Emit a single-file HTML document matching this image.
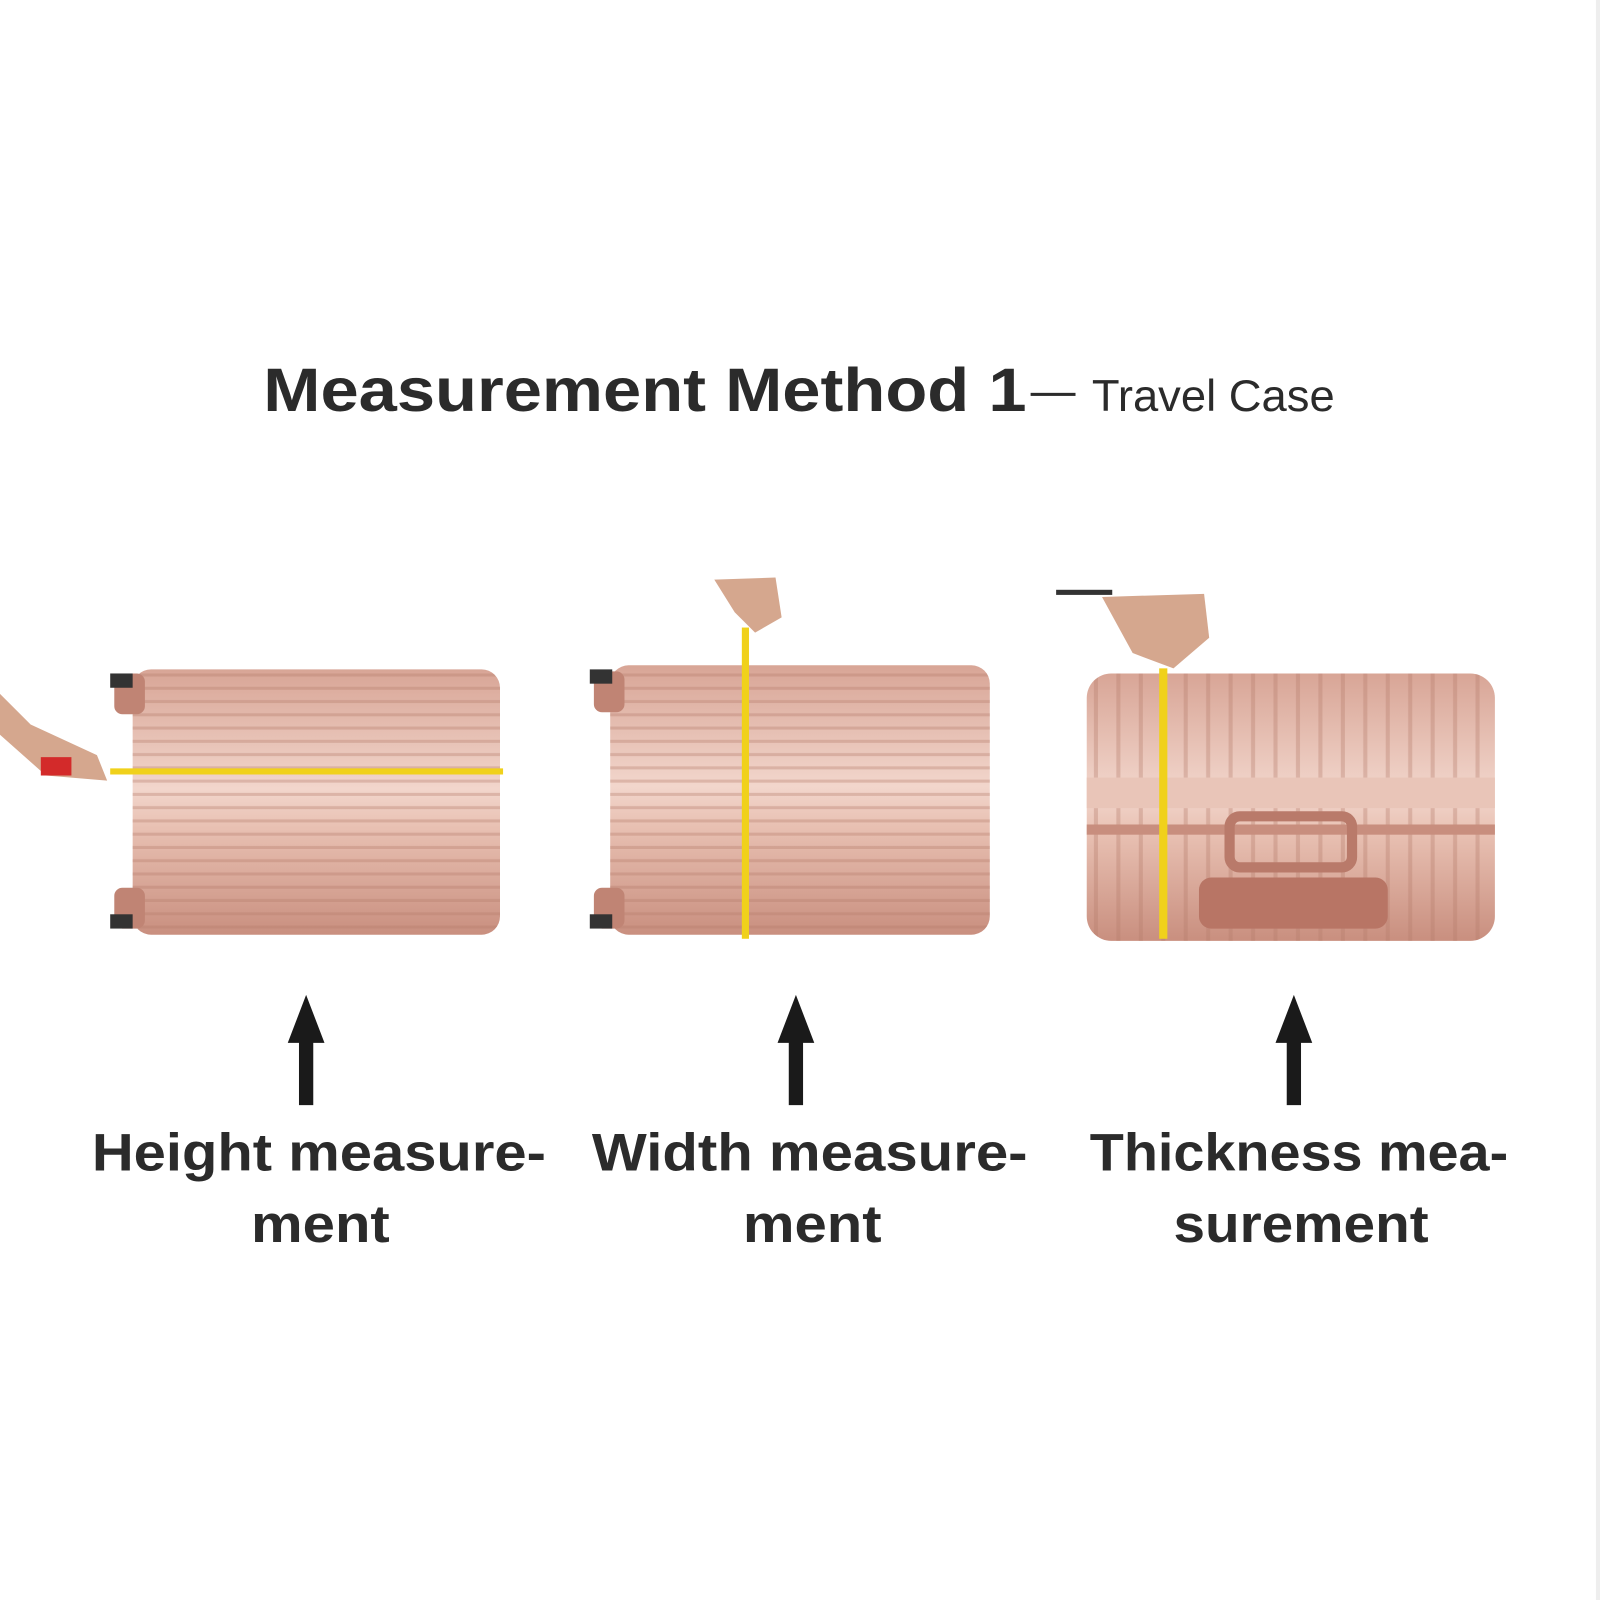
<!DOCTYPE html>
<html><head><meta charset="utf-8"><style>
html,body{margin:0;padding:0;background:#fff;}
svg{display:block}
</style></head><body>
<svg width="1600" height="1600" viewBox="0 0 1568 1568" xmlns="http://www.w3.org/2000/svg">
<defs>
<linearGradient id="g1" x1="0" y1="0" x2="0" y2="1">
<stop offset="0" stop-color="#d8a596"/><stop offset="0.45" stop-color="#f2d6cc"/><stop offset="0.6" stop-color="#e8c0b2"/><stop offset="1" stop-color="#c98f7f"/>
</linearGradient>
<pattern id="ribs" width="10" height="13" patternUnits="userSpaceOnUse">
<rect y="10" width="10" height="3" fill="#b57a6a" opacity="0.35"/>
</pattern>
<pattern id="vrib" width="22" height="10" patternUnits="userSpaceOnUse">
<rect x="16" width="4" height="10" fill="#b57a6a" opacity="0.35"/>
</pattern>
</defs>
<rect width="1568" height="1568" fill="#fff"/>
<rect x="1564" y="0" width="4" height="1568" fill="#eee"/>
<text x="258" y="403" textLength="748" lengthAdjust="spacingAndGlyphs" font-family="Liberation Sans, sans-serif" font-weight="bold" font-size="60" fill="#2b2b2b">Measurement Method 1</text>
<rect x="1010" y="385" width="44" height="3" fill="#2b2b2b"/>
<text x="1070" y="403" textLength="238" lengthAdjust="spacingAndGlyphs" font-family="Liberation Sans, sans-serif" font-size="44" fill="#2b2b2b">Travel Case</text>

<rect x="130" y="656" width="360" height="260" rx="18" fill="url(#g1)"/>
<rect x="130" y="656" width="360" height="260" rx="18" fill="url(#ribs)"/>
<rect x="112" y="660" width="30" height="40" rx="8" fill="#c08474"/>
<rect x="112" y="870" width="30" height="40" rx="8" fill="#c08474"/>
<rect x="108" y="896" width="22" height="14" fill="#333"/><rect x="108" y="660" width="22" height="14" fill="#333"/>
<rect x="108" y="753" width="385" height="6" fill="#f0d11b"/>
<path d="M0 680 L30 710 L95 740 L105 765 L45 760 L0 720Z" fill="#d5a78e"/>
<rect x="40" y="742" width="30" height="18" fill="#d32a2a"/>

<rect x="598" y="652" width="372" height="264" rx="18" fill="url(#g1)"/>
<rect x="598" y="652" width="372" height="264" rx="18" fill="url(#ribs)"/>
<rect x="582" y="658" width="30" height="40" rx="8" fill="#c08474"/>
<rect x="582" y="870" width="30" height="40" rx="8" fill="#c08474"/>
<rect x="578" y="896" width="22" height="14" fill="#333"/><rect x="578" y="656" width="22" height="14" fill="#333"/>
<rect x="727" y="615" width="7" height="305" fill="#f0d11b"/>
<path d="M700 568 L760 566 L766 605 L740 620 L720 600Z" fill="#d5a78e"/>

<rect x="1065" y="660" width="400" height="262" rx="24" fill="url(#g1)"/>
<rect x="1065" y="660" width="400" height="262" rx="24" fill="url(#vrib)"/>
<rect x="1065" y="762" width="400" height="30" fill="#e9c5b8"/>
<rect x="1065" y="808" width="400" height="10" fill="#c88e7e"/>
<rect x="1175" y="860" width="185" height="50" rx="12" fill="#b87565"/>
<rect x="1205" y="800" width="120" height="50" rx="10" fill="none" stroke="#b97a6a" stroke-width="10"/>
<rect x="1136" y="655" width="8" height="265" fill="#f0d11b"/>
<path d="M1080 585 L1180 582 L1185 625 L1150 655 L1110 640Z" fill="#d5a78e"/>
<rect x="1035" y="578" width="55" height="5" fill="#333"/>

<g fill="#1a1a1a">
<path d="M300 975 L318 1022 L307 1022 L307 1083 L293 1083 L293 1022 L282 1022Z"/>
<path d="M780 975 L798 1022 L787 1022 L787 1083 L773 1083 L773 1022 L762 1022Z"/>
<path d="M1268 975 L1286 1022 L1275 1022 L1275 1083 L1261 1083 L1261 1022 L1250 1022Z"/>
</g>
<g font-family="Liberation Sans, sans-serif" font-weight="bold" font-size="52" fill="#2b2b2b" lengthAdjust="spacingAndGlyphs">
<text x="90" y="1147" textLength="445" lengthAdjust="spacingAndGlyphs">Height measure-</text>
<text x="246" y="1217" textLength="136" lengthAdjust="spacingAndGlyphs">ment</text>
<text x="580" y="1147" textLength="427" lengthAdjust="spacingAndGlyphs">Width measure-</text>
<text x="728" y="1217" textLength="136" lengthAdjust="spacingAndGlyphs">ment</text>
<text x="1068" y="1147" textLength="410" lengthAdjust="spacingAndGlyphs">Thickness mea-</text>
<text x="1150" y="1217" textLength="250" lengthAdjust="spacingAndGlyphs">surement</text>
</g>
</svg>
</body></html>
